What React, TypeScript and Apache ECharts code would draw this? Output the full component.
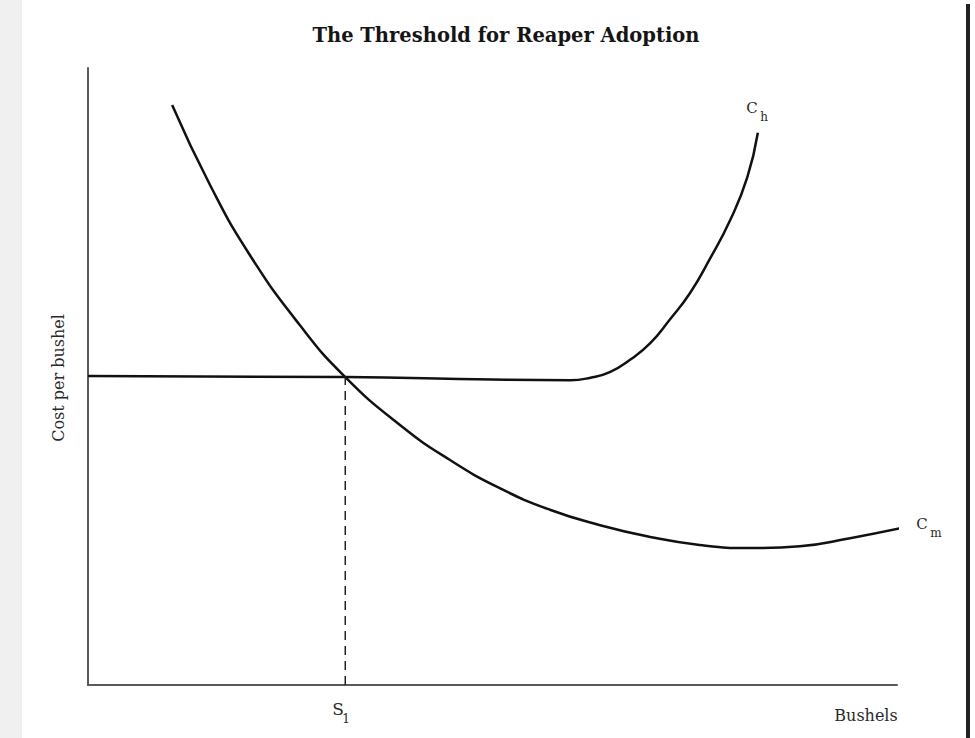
import React, { useEffect, useRef } from "react";
import * as echarts from "echarts";

// Quantity of bushels (0-100 scale) and cost per bushel (0-100 scale)
const chX = [0, 31.8, 50.0, 59.6, 62.1, 64.5, 67.0, 69.5, 71.9, 74.4, 76.8, 79.4, 81.5, 82.8];
const chY = [50.1, 49.9, 49.5, 49.4, 49.8, 50.7, 52.7, 55.4, 59.2, 63.5, 68.9, 75.4, 82.3, 89.5];

const cmX = [10.4, 15.1, 20.0, 26.2, 31.8, 38.6, 44.7, 50.9, 57.1, 63.3, 69.5, 75.6, 81.8, 88.0, 94.2, 101.1];
const cmY = [94.0, 81.0, 69.7, 58.3, 49.9, 42.1, 36.5, 31.9, 28.4, 25.9, 24.0, 22.7, 22.2, 22.5, 23.8, 25.6];

const s1X = 31.8;
const s1Y = 49.9;

const titleText = "The Threshold for Reaper Adoption";
const xName = "Bushels";
const yName = "Cost per bushel";

const serif = "'DejaVu Serif', 'Liberation Serif', serif";
const ink = "#2a2a2a";

function label(x: number, y: number, text: string, size: number, weight = "normal", rotation = 0, fill = ink) {
  return {
    type: "text",
    x,
    y,
    rotation,
    style: {
      text,
      fontFamily: serif,
      fontSize: size,
      fontWeight: weight,
      fill,
      align: "center",
      verticalAlign: "middle",
    },
  };
}

export default function App() {
  const ref = useRef<HTMLDivElement>(null);
  useEffect(() => {
    if (!ref.current) return;
    const chart = echarts.init(ref.current, null, { renderer: "svg" });
    const chData = chX.map((x, i) => [x, chY[i]]);
    const cmData = cmX.map((x, i) => [x, cmY[i]]);
    chart.setOption({
      animation: false,
      backgroundColor: "#ffffff",
      grid: { left: 88, right: 78, top: 68, bottom: 53 },
      xAxis: {
        type: "value",
        min: 0,
        max: 100,
        axisLine: { show: true, lineStyle: { color: "#5a5a5a", width: 2 } },
        axisTick: { show: false },
        axisLabel: { show: false },
        splitLine: { show: false },
      },
      yAxis: {
        type: "value",
        min: 0,
        max: 100,
        axisLine: { show: true, lineStyle: { color: "#5a5a5a", width: 2 } },
        axisTick: { show: false },
        axisLabel: { show: false },
        splitLine: { show: false },
      },
      graphic: [
        { type: "rect", shape: { x: 0, y: 0, width: 22, height: 738 }, style: { fill: "#f0f0f0" }, z: -1 },
        { type: "rect", shape: { x: 966, y: 4, width: 4, height: 734 }, style: { fill: "#222" } },
        label(506, 35, titleText, 19.5, "bold", 0, "#151515"),
        label(866, 715, xName, 16),
        label(58, 378, yName, 16, "normal", Math.PI / 2),
        label(338, 709, "S", 17),
        label(346, 719, "1", 12),
        label(752, 108, "C", 15),
        label(764, 117, "h", 12),
        label(922, 524, "C", 15),
        label(936, 533, "m", 12),
      ],
      series: [
        {
          name: "Ch",
          type: "line",
          data: chData,
          smooth: 0.5,
          symbol: "none",
          clip: false,
          lineStyle: { color: "#111", width: 2.5 },
        },
        {
          name: "Cm",
          type: "line",
          data: cmData,
          smooth: 0.5,
          symbol: "none",
          clip: false,
          lineStyle: { color: "#111", width: 2.5 },
        },
        {
          name: "S1",
          type: "line",
          data: [[s1X, 0], [s1X, s1Y]],
          symbol: "none",
          lineStyle: { color: "#222", width: 1.5, type: [9, 6] },
        },
      ],
    });
    return () => chart.dispose();
  }, []);
  return (
    <div
      ref={ref}
      style={{ position: "fixed", left: 0, top: 0, width: 975, height: 738 }}
    />
  );
}
